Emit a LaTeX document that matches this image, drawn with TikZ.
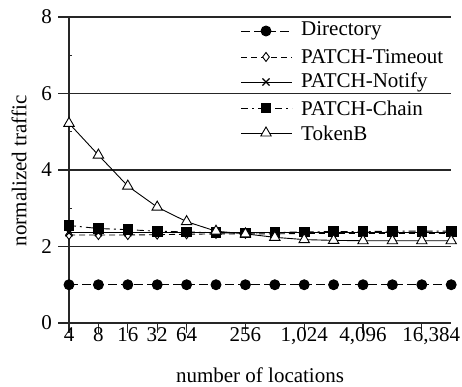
\documentclass[tikz,border=0pt]{standalone}
\usepackage{fontspec}
\setmainfont{Liberation Serif}
\usetikzlibrary{plotmarks}
\tikzset{
  axisline/.style={line width=1.3pt, black!85},
  gridline/.style={line width=1.3pt, black!85},
  serie/.style={line width=0.9pt, black},
  dirstyle/.style={serie, dash pattern=on 9pt off 4pt, mark=*, mark size=5pt, mark options={solid, fill=black}},
  tostyle/.style={serie, dash pattern=on 6pt off 4pt, mark=diamond*, mark size=4.5pt, mark options={solid, fill=white}},
  nostyle/.style={serie, mark=x, mark size=5pt, mark options={solid, line width=1.1pt}},
  chstyle/.style={serie, dash pattern=on 7pt off 4pt on 2pt off 4pt, mark=square*, mark size=4.8pt, mark options={solid, fill=black}},
  tbstyle/.style={serie, mark=triangle*, mark size=6pt, mark options={solid, fill=white}},
  ticklabel/.style={inner sep=0pt},
  legtext/.style={anchor=west, inner sep=0pt}
}
\begin{document}
\begin{tikzpicture}[x=1pt, y=1pt, font=\fontsize{21}{25}\selectfont]
\useasboundingbox (0,0) rectangle (462,387);
\begin{scope}[shift={(69pt,64pt)}, x=29.4pt, y=38.25pt]
  % grid lines and x axis
  \foreach \v in {0,2,4,6,8}
    \draw[gridline] ([xshift=-11pt]0,\v) -- (13,\v);
  % y axis with minor ticks on the inside
  \draw[axisline] (0,0) -- (0,8);
  \foreach \v in {1,3,5,7}
    \draw[axisline] (0,\v) -- ([xshift=3pt]0,\v);
  % y tick labels
  \foreach \v in {0,2,4,6,8}
    \node[ticklabel, anchor=east] (yl\v) at ([xshift=-17pt]0,\v) {\v};
  % x ticks and labels
  \foreach \i/\t in {0/4, 1/8, 2/16, 3/32, 4/64, 6/256, 8/{1,024}, 10/{4,096}}
  {
    \draw[axisline] (\i,0) -- ([yshift=-10pt]\i,0);
    \node[ticklabel, anchor=base] (xl\i) at ([yshift=-19pt]\i,0) {\t};
  }
  \draw[axisline] (12,0) -- ([yshift=-10pt]12,0);
  \node[ticklabel, anchor=base] (xl12) at ([xshift=9.5pt, yshift=-19pt]12,0) {16,384};

  % data series
  \draw[dirstyle] plot coordinates {(0,1) (1,1) (2,1) (3,1) (4,1) (5,1) (6,1) (7,1) (8,1) (9,1) (10,1) (11,1) (12,1) (13,1)};
  \draw[tostyle] plot coordinates {(0,2.3) (1,2.3) (2,2.3) (3,2.31) (4,2.32) (5,2.33) (6,2.33) (7,2.33) (8,2.34) (9,2.34) (10,2.34) (11,2.34) (12,2.34) (13,2.34)};
  \draw[nostyle] plot coordinates {(0,2.36) (1,2.36) (2,2.36) (3,2.36) (4,2.36) (5,2.36) (6,2.36) (7,2.36) (8,2.36) (9,2.36) (10,2.36) (11,2.36) (12,2.36) (13,2.36)};
  \draw[chstyle] plot coordinates {(0,2.55) (1,2.47) (2,2.44) (3,2.40) (4,2.38) (5,2.36) (6,2.35) (7,2.37) (8,2.38) (9,2.39) (10,2.39) (11,2.40) (12,2.40) (13,2.40)};
  \draw[tbstyle] plot coordinates {(0,5.22) (1,4.39) (2,3.58) (3,3.03) (4,2.65) (5,2.40) (6,2.33) (7,2.24) (8,2.18) (9,2.16) (10,2.15) (11,2.15) (12,2.15) (13,2.15)};
\end{scope}

% legend: sample line with one mark in the middle, then the series name
\begin{scope}[shift={(0pt,387pt)}, y=-1pt]
  \foreach \yy/\st/\lab [count=\k] in {31/dirstyle/Directory, 57/tostyle/PATCH-Timeout, 82/nostyle/PATCH-Notify, 108/chstyle/PATCH-Chain, 133/tbstyle/TokenB}
  {
    \draw[\st, mark=none] (241,\yy) -- (292,\yy);
    \draw[\st] plot coordinates {(266,\yy)};
    \node[legtext] (leg\k) at (301,\yy) {\lab};
  }
  % axis titles
  \node[inner sep=0pt, rotate=90] (ytitle) at (19,171) {normalized traffic};
  \node[inner sep=0pt, anchor=base] (xtitle) at (260,382.5) {number of locations};
\end{scope}
\end{tikzpicture}
\end{document}
